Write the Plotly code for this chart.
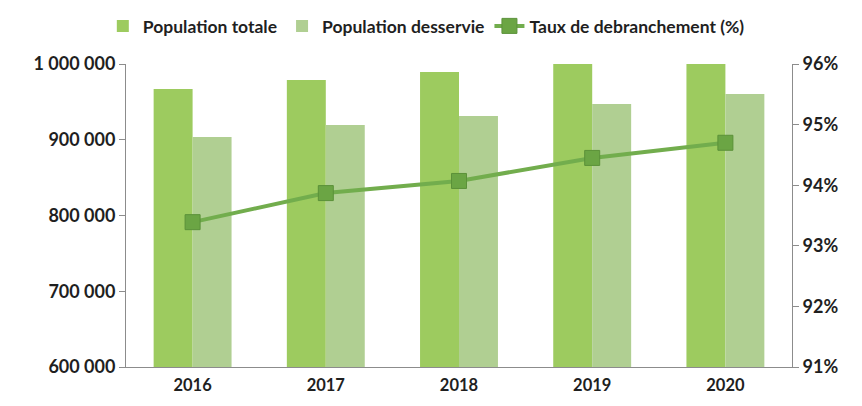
import plotly.graph_objects as go

# ── Data ─────────────────────────────────────────────────────────────────────
years = ["2016", "2017", "2018", "2019", "2020"]
pop_totale = [967000, 979000, 989500, 1003000, 1014000]
pop_desservie = [903600, 919500, 931400, 947200, 960400]
taux = [93.39, 93.87, 94.07, 94.45, 94.70]

left_ticks = [600000, 700000, 800000, 900000, 1000000]
left_labels = ["600 000", "700 000", "800 000", "900 000", "1 000 000"]
right_ticks = [91, 92, 93, 94, 95, 96]
right_labels = ["91%", "92%", "93%", "94%", "95%", "96%"]

# ── Style ────────────────────────────────────────────────────────────────────
_FONT = "Lato, 'Open Sans', sans-serif"
_TEXT = "#1f1f1f"
_AXIS = "#8c8c8c"
GREEN = "#9dcb5f"
LIGHT = "#b0cf92"
LINE = "#72ad4d"

fig = go.Figure()
fig.add_trace(go.Bar(
    name="<b>Population totale</b>", x=years, y=pop_totale,
    marker=dict(color=GREEN, line=dict(width=0)),
))
fig.add_trace(go.Bar(
    name="<b>Population desservie</b>", x=years, y=pop_desservie,
    marker=dict(color=LIGHT, line=dict(width=0)),
))
fig.add_trace(go.Scatter(
    name="<b>Taux de debranchement (%)</b>", x=years, y=taux, yaxis="y2",
    mode="lines+markers",
    line=dict(color=LINE, width=4),
    marker=dict(symbol="square", size=15, color="#6ba544",
                line=dict(color="#5b9139", width=1)),
))

# the page adds an 8px body margin, so the margins are shifted to compensate
fig.update_layout(
    width=862, height=406,
    paper_bgcolor="white", plot_bgcolor="white",
    font=dict(family=_FONT, size=16, color=_TEXT),
    margin=dict(l=118, r=78, t=56, b=47, autoexpand=False),
    barmode="group", bargap=0.415, bargroupgap=0,
    legend=dict(orientation="h", xref="container", x=0.11, xanchor="left",
                yref="container", y=1.0, yanchor="top",
                font=dict(size=17.5, color=_TEXT), traceorder="normal",
                itemwidth=30, tracegroupgap=0),
    xaxis=dict(showline=True, linecolor=_AXIS, linewidth=1, ticks="",
               tickfont=dict(size=16.5), showgrid=False, ticklabelstandoff=3),
    yaxis=dict(range=[600000, 1000000], tickvals=left_ticks,
               ticktext=[f"<b>{t}</b>" for t in left_labels],
               showline=True, linecolor=_AXIS, linewidth=1, ticks="outside",
               ticklen=6, tickcolor=_AXIS, showgrid=False, zeroline=False,
               tickfont=dict(size=18), automargin=False),
    yaxis2=dict(range=[91, 96], tickvals=right_ticks,
                ticktext=[f"<b>{t}</b>" for t in right_labels],
                overlaying="y", side="right",
                showline=True, linecolor=_AXIS, linewidth=1, ticks="outside",
                ticklen=6, tickcolor=_AXIS, showgrid=False, zeroline=False,
                tickfont=dict(size=18), automargin=False),
)
fig.update_xaxes(tickvals=years, ticktext=[f"<b>{y}</b>" for y in years],
                 automargin=False)

fig.write_html("out.html")
